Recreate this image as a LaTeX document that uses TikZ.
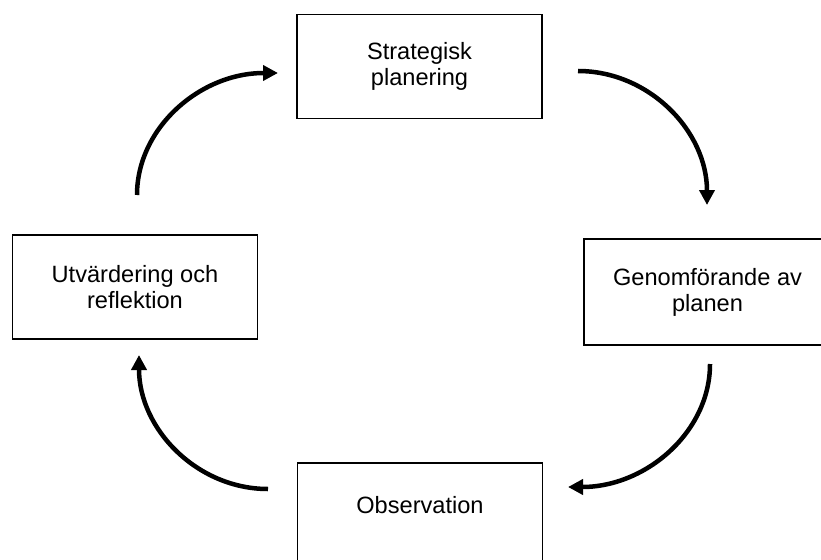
\documentclass[tikz,border=0pt]{standalone}
\usepackage{fontspec}
\setmainfont{Liberation Sans}
\usetikzlibrary{arrows.meta}
\tikzset{>={Triangle[length=15pt,width=15pt]}}
\tikzset{stage/.style={draw,line width=1.8pt,minimum width=245pt,minimum height=104pt,
  align=center,inner sep=0pt,font=\fontsize{23.6}{26}\selectfont}}
\tikzset{turn/.style={->,line width=4.5pt}}

\begin{document}
\begin{tikzpicture}[x=1pt,y=-1pt]
  \useasboundingbox (0,0) rectangle (821,559);
  \clip (0,0) rectangle (821,559);
  % the four stages
  \node[stage] (plan) at (419.5,66.5) {Strategisk\\planering};
  \node[stage,draw=none] (genom) at (707.5,292) {Genomförande av\\planen};
  \draw[line width=1.8pt] ([xshift=300pt]genom.north west) -- (genom.north west)
    -- (genom.south west) -- ([xshift=300pt]genom.south west); % cut by the page edge
  \node[stage,text depth=20pt] (obs) at (420,515) {Observation};
  \node[stage] (utv) at (135,287) {Utvärdering och\\reflektion};
  % free ends of the arrows
  \coordinate (utv-out) at (137,195);
  \coordinate (plan-in) at (278,73);
  \coordinate (plan-out) at (578,71);
  \coordinate (genom-in) at (707,205);
  \coordinate (genom-out) at (710,364);
  \coordinate (obs-in) at (568,487);
  \coordinate (obs-out) at (268,489);
  \coordinate (utv-in) at (139,355);
  \draw[turn] (utv-out) .. controls (137,128) and (200,73) .. (plan-in);
  \draw[turn] (plan-out) .. controls (649,71) and (707,131) .. (genom-in);
  \draw[turn] (genom-out) .. controls (710,432) and (646,487) .. (obs-in);
  \draw[turn] (obs-out) .. controls (197,489) and (139,429) .. (utv-in);
\end{tikzpicture}
\end{document}
